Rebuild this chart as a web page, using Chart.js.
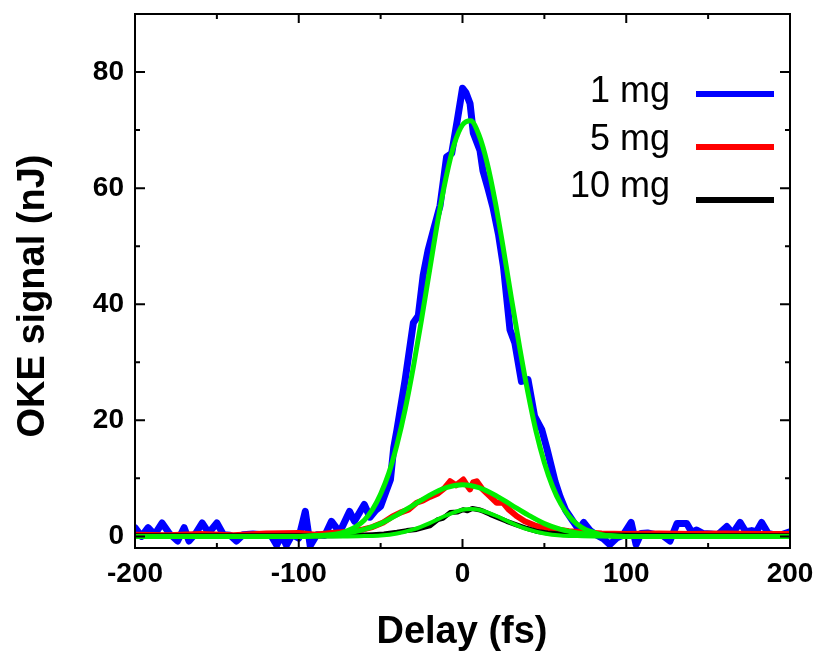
<!DOCTYPE html>
<html>
<head>
<meta charset="utf-8">
<script src="https://cdn.jsdelivr.net/npm/chart.js@4.4.1/dist/chart.umd.min.js"></script>
<style>
  body { margin: 0; background: #fff; }
  #wrap { width: 818px; height: 651px; }
</style>
</head>
<body>
<div id="wrap"><canvas id="grafico" width="818" height="651"></canvas></div>
<script>
// datos: retardo (fs), señal OKE (nJ)
const etiquetas = ['1 mg', '5 mg', '10 mg'];
const colores = ['#0000ff', '#ff0000', '#000000'];
const colorAjuste = '#00ee00';

const delay1mg = [-200,-196,-192,-188,-183.5,-179,-174,-170,-167,-163,-159,-155,-150,-146,-142,-138,-134,-128,-122,-117,-113.5,-110.5,-107.5,-104,-100,-96,-93,-89,-84,-80,-75,-69,-66,-60,-56.5,-53,-50,-47,-44,-42,-40,-35,-30,-27,-24,-21,-17.5,-13.7,-9.7,-6.6,-3,0,2,4.6,6.6,10.7,12.5,15.5,18.6,22,25,29,32,36,40,44,48.4,51.4,53.4,56.5,59.5,63,67.5,71,74,78,82,86,90,94,98,103,106,109,113,118,122,126.7,131,137,140,143,147,152,156,161.4,165,169.5,173,176.6,179.5,182.7,186.7,190,195,200];
const senal1mg = [1.5,0,1.5,0.3,2.3,0.5,-0.8,1.5,-0.8,0.5,2.3,0.6,2.3,0.3,0.2,-0.8,0.3,0.4,0.3,0.2,-1.5,0.2,-1.5,0.3,-0.3,4.3,-1.6,0.3,0.2,2.6,0.7,4.3,2.6,5.5,3.3,4.5,5.2,7.5,9.8,15.3,18.4,27,36.8,38,45,49.3,53,57,65.4,66,72,77.2,76.5,74.6,69.5,66.5,63,60,56.7,52,46.5,35.6,33.3,26.7,27,20.7,18.4,15.3,13,9.5,6.9,4.5,2.6,1.2,2.4,1.0,0.2,-0.4,-1.4,-0.3,0.2,2.4,-1.4,0.5,0.6,0.3,0.2,-0.8,2.2,2.2,0.7,1.1,0.5,0.4,0.3,1.7,0.5,2.4,0.8,1.0,0.8,2.4,0.5,0.3,0.3,0.8];

const delay5mg = [-200,-180,-160,-140,-120,-100,-90,-80,-70,-60.7,-55,-48.4,-43,-38,-33,-28,-24,-20,-15,-11,-7.6,-4,0.5,2.5,4.6,6.5,8.7,12,16.8,20.9,24.8,28,33,38,45,51,57.5,65,74,85,100,120,140,160,180,200];
const senal5mg = [0.3,0.2,0.4,0.2,0.5,0.6,0.3,0.6,0.8,1.2,1.6,2.4,3.4,4.1,4.6,5.8,6.2,6.8,7.4,8.3,9.5,8.8,9.8,8.9,8.1,9.3,9.5,8.2,6.9,5.8,5.8,4.7,3.5,2.6,1.8,1.5,1.2,0.9,0.7,0.5,0.4,0.5,0.4,0.5,0.4,0.4];

const delay10mg = [-200,-150,-100,-80,-65,-55,-48,-40,-34,-28,-24,-20,-15,-12,-7.6,-3,0.3,3,6,10,13,16.8,22,27,33,39,45,52,60,74,100,150,200];
const senal10mg = [0.1,0.1,0.1,0.1,0.2,0.3,0.4,0.7,1.0,1.2,1.5,1.8,2.9,3.1,4.1,4.2,4.6,4.4,4.8,4.6,4.3,3.8,3.2,2.6,2.0,1.4,0.9,0.6,0.4,0.3,0.2,0.1,0.1];

// ajustes (curvas verdes)
const delayAjuste1 = [-200,-100,-90,-80,-75,-70,-65,-60,-55,-50,-45,-40,-35,-30,-25,-20,-15,-10,-5,0,5,10,15,20,25,30,35,40,45,50,55,60,65,70,75,80,85,90,100,200];
const ajuste1mg = [0,0,0.1,0.3,0.5,1.0,1.7,2.8,4.6,7.3,10.9,15.8,21.9,29.2,37.4,46.0,54.5,61.9,67.6,70.9,71.6,69.2,64.4,57.6,49.5,40.8,32.4,24.7,18.0,12.7,8.6,5.6,3.5,2.1,1.2,0.7,0.3,0.1,0,0];
const delayAjuste2 = [-200,-100,-90,-80,-70,-60,-50,-40,-30,-20,-10,0,10,20,30,40,50,60,70,80,90,100,200];
const ajuste5mg = [0,0,0.1,0.25,0.6,1.2,2.2,3.7,5.4,7.1,8.4,8.9,8.4,7.1,5.4,3.7,2.2,1.2,0.6,0.25,0.1,0,0];
const delayAjuste3 = [-200,-70,-60,-50,-40,-30,-20,-10,0,5,10,20,30,40,50,60,70,80,200];
const ajuste10mg = [0,0,0.05,0.15,0.5,1.2,2.3,3.6,4.6,4.7,4.6,3.6,2.3,1.2,0.5,0.15,0.05,0,0];

const ticksX = [-200, -100, 0, 100, 200];
const ticksY = [0, 20, 40, 60, 80];
const menoresX = [-150, -50, 50, 150];
const menoresY = [10, 30, 50, 70];

const fuente = '"Liberation Sans", Arial, sans-serif';

function puntos(xs, ys) { return xs.map((x, i) => ({ x: x, y: ys[i] })); }

let datasets = [
    { label: etiquetas[0], data: puntos(delay1mg, senal1mg), borderColor: colores[0], borderWidth: 7, order: 3 },
    { label: etiquetas[1], data: puntos(delay5mg, senal5mg), borderColor: colores[1], borderWidth: 6, order: 2 },
    { label: etiquetas[2], data: puntos(delay10mg, senal10mg), borderColor: colores[2], borderWidth: 5, order: 1 },
    { label: 'ajuste1', data: puntos(delayAjuste1, ajuste1mg), borderColor: colorAjuste, borderWidth: 5, order: 0, cubicInterpolationMode: 'monotone' },
    { label: 'ajuste2', data: puntos(delayAjuste2, ajuste5mg), borderColor: colorAjuste, borderWidth: 5, order: 0, cubicInterpolationMode: 'monotone' },
    { label: 'ajuste3', data: puntos(delayAjuste3, ajuste10mg), borderColor: colorAjuste, borderWidth: 4, order: 0, cubicInterpolationMode: 'monotone' }
];
datasets.forEach(d => { d.pointRadius = 0; d.fill = false; d.borderJoinStyle = 'round'; d.borderCapStyle = 'round'; });

// marco, marcas hacia dentro, leyenda y titulos
const pluginMarco = {
    id: 'marco',
    afterDraw(chart) {
        let ctx = chart.ctx; let a = chart.chartArea;
        let sx = chart.scales.x; let sy = chart.scales.y;
        ctx.save();
        ctx.strokeStyle = '#000'; ctx.lineWidth = 2;
        ctx.strokeRect(a.left, a.top, a.right - a.left, a.bottom - a.top);
        ctx.beginPath();
        ticksX.forEach(v => { let px = sx.getPixelForValue(v); ctx.moveTo(px, a.bottom); ctx.lineTo(px, a.bottom - 9); ctx.moveTo(px, a.top); ctx.lineTo(px, a.top + 9); });
        menoresX.forEach(v => { let px = sx.getPixelForValue(v); ctx.moveTo(px, a.bottom); ctx.lineTo(px, a.bottom - 5); ctx.moveTo(px, a.top); ctx.lineTo(px, a.top + 5); });
        ticksY.forEach(v => { let py = sy.getPixelForValue(v); ctx.moveTo(a.left, py); ctx.lineTo(a.left + 10, py); ctx.moveTo(a.right, py); ctx.lineTo(a.right - 10, py); });
        menoresY.forEach(v => { let py = sy.getPixelForValue(v); ctx.moveTo(a.left, py); ctx.lineTo(a.left + 5, py); ctx.moveTo(a.right, py); ctx.lineTo(a.right - 5, py); });
        ctx.stroke();

        // leyenda
        let baseTexto = [102, 150, 197]; let baseLinea = [94, 147, 200];
        ctx.font = '36px ' + fuente; ctx.fillStyle = '#000'; ctx.textAlign = 'right'; ctx.textBaseline = 'alphabetic';
        for (let i = 0; i < 3; i++) {
            ctx.fillText(chart.data.datasets[i].label, 670, baseTexto[i]);
            ctx.strokeStyle = colores[i]; ctx.lineWidth = 6; ctx.lineCap = 'butt';
            ctx.beginPath(); ctx.moveTo(696, baseLinea[i]); ctx.lineTo(774, baseLinea[i]); ctx.stroke();
        }

        // titulos de ejes
        ctx.font = 'bold 38px ' + fuente; ctx.textAlign = 'center';
        ctx.fillText('Delay (fs)', 462, 643);
        ctx.translate(44, 296); ctx.rotate(-Math.PI / 2);
        ctx.fillText('OKE signal (nJ)', 0, 0);
        ctx.restore();
    }
};

function sinRelleno(s) { s.paddingTop = 0; s.paddingBottom = 0; s.paddingLeft = 0; s.paddingRight = 0; }

new Chart(document.getElementById('grafico'), {
    type: 'line',
    data: { datasets: datasets },
    options: {
        responsive: false, animation: false,
        layout: { padding: { top: 14, right: 28, left: 0, bottom: 0 } },
        plugins: { legend: { display: false }, tooltip: { enabled: false } },
        scales: {
            x: {
                type: 'linear', min: -200, max: 200,
                afterBuildTicks: s => { s.ticks = ticksX.map(v => ({ value: v })); },
                afterFit: s => { s.height = 103; sinRelleno(s); },
                grid: { display: false, drawTicks: false }, border: { display: false },
                ticks: { color: '#000', font: { family: fuente, size: 28, weight: 'bold' }, padding: 9, maxRotation: 0 }
            },
            y: {
                type: 'linear', min: -2, max: 90,
                afterBuildTicks: s => { s.ticks = ticksY.map(v => ({ value: v })); },
                afterFit: s => { s.width = 135; sinRelleno(s); },
                grid: { display: false, drawTicks: false }, border: { display: false },
                ticks: { color: '#000', font: { family: fuente, size: 28, weight: 'bold' }, padding: 11 }
            }
        }
    },
    plugins: [pluginMarco]
});
</script>
</body>
</html>
